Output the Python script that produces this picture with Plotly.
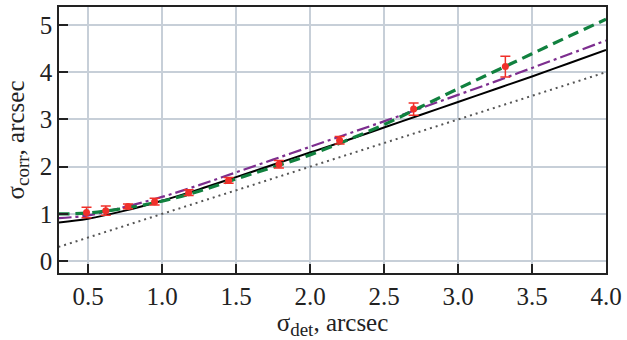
import plotly.graph_objects as go

# observed points
obs_x = [0.49, 0.62, 0.77, 0.95, 1.18, 1.45, 1.79, 2.20, 2.70, 3.32]
obs_y = [1.03, 1.07, 1.16, 1.26, 1.45, 1.71, 2.05, 2.56, 3.22, 4.12]
obs_err = [0.11, 0.10, 0.05, 0.07, 0.06, 0.06, 0.08, 0.08, 0.13, 0.22]

# model curves
curve_x = [0.3, 0.5, 0.75, 1.0, 1.25, 1.5, 1.75, 2.0, 2.25, 2.5, 2.75, 3.0, 3.25, 3.5, 3.75, 4.0]
black_y = [0.82, 0.90, 1.07, 1.28, 1.52, 1.78, 2.04, 2.30, 2.56, 2.83, 3.10, 3.37, 3.64, 3.91, 4.19, 4.47]
purple_y = [0.91, 0.97, 1.15, 1.36, 1.61, 1.88, 2.15, 2.42, 2.69, 2.96, 3.24, 3.52, 3.80, 4.09, 4.38, 4.67]
green_y = [1.00, 1.02, 1.12, 1.27, 1.48, 1.74, 1.99, 2.25, 2.56, 2.89, 3.27, 3.65, 4.02, 4.39, 4.76, 5.12]
ident_x = [0.3, 4.0]
ident_y = [0.3, 4.0]

x_ticks = [0.5, 1.0, 1.5, 2.0, 2.5, 3.0, 3.5, 4.0]
y_ticks = [0, 1, 2, 3, 4, 5]

FONT = "Liberation Serif, Times New Roman, serif"
FS = 25

fig = go.Figure()
fig.add_trace(go.Scatter(x=ident_x, y=ident_y, mode="lines",
                         line=dict(color="#555555", width=2, dash="2px,4px"), showlegend=False))
fig.add_trace(go.Scatter(x=curve_x, y=black_y, mode="lines", line_shape="spline",
                         line=dict(color="black", width=2), showlegend=False))
fig.add_trace(go.Scatter(x=curve_x, y=purple_y, mode="lines", line_shape="spline",
                         line=dict(color="#7d2e8f", width=2.2, dash="13px,4px,3px,4px"), showlegend=False))
fig.add_trace(go.Scatter(x=curve_x, y=green_y, mode="lines", line_shape="spline",
                         line=dict(color="#11813f", width=3.2, dash="11px,6px"), showlegend=False))
fig.add_trace(go.Scatter(x=obs_x, y=obs_y, mode="markers",
                         marker=dict(color="#f0302a", size=7),
                         error_y=dict(type="data", array=obs_err, color="#f0302a",
                                      thickness=1.5, width=5),
                         showlegend=False))

fig.update_layout(
    width=627, height=340,
    margin=dict(l=59, r=15, t=5, b=67),
    plot_bgcolor="white", paper_bgcolor="white",
    font=dict(family=FONT, size=FS, color="#222222"),
)
fig.update_xaxes(
    range=[0.304, 4.0], tickvals=x_ticks, tickformat=".1f",
    showgrid=True, gridcolor="#c7cfd8", gridwidth=1.5, zeroline=False,
    showline=True, linecolor="#222222", linewidth=1.5, mirror=True,
    ticks="inside", ticklen=9, tickwidth=1.5, tickcolor="#222222",
    tickfont=dict(family=FONT, size=FS), ticklabeloverflow="allow",
    title=dict(text="σ<sub><span style='font-size:19px'>det</span></sub>, arcsec",
               font=dict(family=FONT, size=FS), standoff=2),
)
fig.update_yaxes(
    range=[-0.25, 5.38], tickvals=y_ticks,
    showgrid=True, gridcolor="#c7cfd8", gridwidth=1.5, zeroline=False,
    showline=True, linecolor="#222222", linewidth=1.5, mirror=True,
    ticks="inside", ticklen=9, tickwidth=1.5, tickcolor="#222222",
    tickfont=dict(family=FONT, size=FS), ticklabeloverflow="allow",
    title=dict(text="σ<sub><span style='font-size:19px'>corr</span></sub>, arcsec",
               font=dict(family=FONT, size=FS), standoff=8),
)

fig.write_html("out.html")
